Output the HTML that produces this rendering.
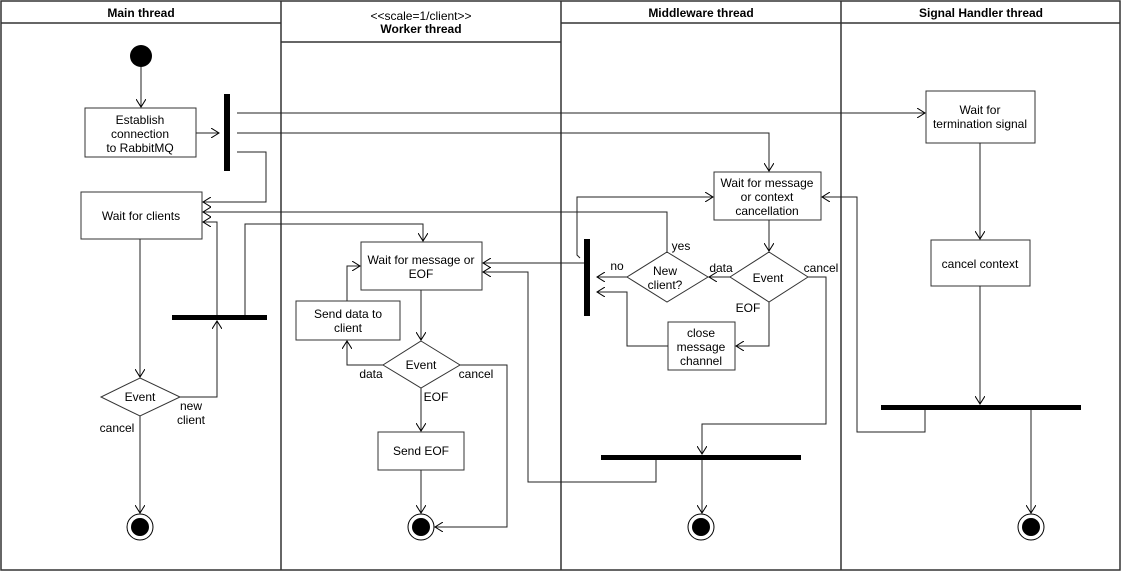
<!DOCTYPE html>
<html><head><meta charset="utf-8"><style>
body{margin:0;background:#fff}
svg text{font-family:"Liberation Sans",sans-serif;font-size:12px;fill:#000}
.b{font-weight:bold}
</style></head><body>
<svg width="1121" height="571" viewBox="0 0 1121 571">
<defs>
<marker id="a" markerWidth="10" markerHeight="10" refX="8" refY="5" orient="auto" markerUnits="userSpaceOnUse">
<path d="M0,0 L8,5 L0,10" fill="none" stroke="#000" stroke-width="1"/></marker>
</defs>
<g fill="none" stroke="#333" stroke-width="1.5">
<rect x="1" y="1" width="1119" height="569"/>
<line x1="281" y1="1" x2="281" y2="570"/>
<line x1="561" y1="1" x2="561" y2="570"/>
<line x1="841" y1="1" x2="841" y2="570"/>
<line x1="1" y1="23" x2="281" y2="23"/>
<line x1="561" y1="23" x2="1120" y2="23"/>
<line x1="281" y1="42" x2="561" y2="42"/>
</g>
<text class="b" x="141" y="17" text-anchor="middle">Main thread</text>
<text x="421" y="20" text-anchor="middle">&lt;&lt;scale=1/client&gt;&gt;</text>
<text class="b" x="421" y="33" text-anchor="middle">Worker thread</text>
<text class="b" x="701" y="17" text-anchor="middle">Middleware thread</text>
<text class="b" x="981" y="17" text-anchor="middle">Signal Handler thread</text>

<g fill="#fff" stroke="#333" stroke-width="1">
<rect x="85" y="108" width="111" height="49"/>
<rect x="81" y="192" width="121" height="47"/>
<polygon points="140,378 180,397 140,416 101,397"/>
<rect x="361" y="242" width="121" height="48"/>
<rect x="296" y="301" width="104" height="39"/>
<polygon points="421,341 460,365 421,388 383,365"/>
<rect x="378" y="432" width="86" height="38"/>
<rect x="714" y="172" width="107" height="48"/>
<polygon points="769,252 808,277 769,302 730,277"/>
<polygon points="667,252 708,277 667,302 627,277"/>
<rect x="668" y="322" width="67" height="48"/>
<rect x="926" y="91" width="109" height="52"/>
<rect x="931" y="240" width="99" height="46"/>
</g>
<g fill="#000">
<circle cx="141" cy="56" r="11"/>
<rect x="224" y="94" width="6" height="77"/>
<rect x="172" y="315" width="95" height="5"/>
<rect x="584" y="239" width="6" height="77"/>
<rect x="601" y="455" width="200" height="5"/>
<rect x="881" y="405" width="200" height="5"/>
</g>
<g fill="none" stroke="#000">
<circle cx="140" cy="527" r="13"/><circle cx="421" cy="527" r="13"/><circle cx="701" cy="527" r="13"/><circle cx="1031" cy="527" r="13"/>
</g>
<g fill="#000"><circle cx="140" cy="527" r="9"/><circle cx="421" cy="527" r="9"/><circle cx="701" cy="527" r="9"/><circle cx="1031" cy="527" r="9"/></g>

<g fill="none" stroke="#222" stroke-width="1" marker-end="url(#a)">
<path d="M141,67 V107"/>
<path d="M196,133 H219"/>
<path d="M237,113 H925"/>
<path d="M237,133 H769 V171"/>
<path d="M237,152 H266 V202 H203"/>
<path d="M140,239 V377"/>
<path d="M180,397 H217 V321"/>
<path d="M217,315 V222 H203"/>
<path d="M245,315 V224 H423 V241"/>
<path d="M140,416 V513"/>
<path d="M421,290 V340"/>
<path d="M383,365 H347 V341"/>
<path d="M347,301 V266 H360"/>
<path d="M421,388 V431"/>
<path d="M421,470 V513"/>
<path d="M460,365 H507 V527 H435"/>
<path d="M769,220 V251"/>
<path d="M730,277 H709"/>
<path d="M627,277 H597"/>
<path d="M667,252 V212 H203"/>
<path d="M769,302 V346 H736"/>
<path d="M668,346 H627 V292 H597"/>
<path d="M584,263 H483"/>
<path d="M580,258 L577,255 V197 H713"/>
<path d="M808,277 H826 V424 H702 V454"/>
<path d="M656,460 V482 H528 V272 H483"/>
<path d="M702,460 V513"/>
<path d="M980,143 V239"/>
<path d="M980,286 V404"/>
<path d="M925,410 V432 H857 V197 H822"/>
<path d="M1031,410 V513"/>
</g>

<g text-anchor="middle">
<text x="140" y="124">Establish</text><text x="140" y="138">connection</text><text x="140" y="152">to RabbitMQ</text>
<text x="141" y="220">Wait for clients</text>
<text x="140" y="401">Event</text>
<text x="191" y="410">new</text><text x="191" y="424">client</text>
<text x="117" y="432">cancel</text>
<text x="421" y="264">Wait for message or</text><text x="421" y="278">EOF</text>
<text x="348" y="318">Send data to</text><text x="348" y="332">client</text>
<text x="421" y="369">Event</text>
<text x="371" y="378">data</text>
<text x="476" y="378">cancel</text>
<text x="436" y="401">EOF</text>
<text x="421" y="455">Send EOF</text>
<text x="767" y="187">Wait for message</text><text x="767" y="201">or context</text><text x="767" y="215">cancellation</text>
<text x="768" y="282">Event</text>
<text x="721" y="272">data</text>
<text x="821" y="272">cancel</text>
<text x="748" y="312">EOF</text>
<text x="665" y="275">New</text><text x="665" y="289">client?</text>
<text x="617" y="270">no</text>
<text x="681" y="250">yes</text>
<text x="701" y="337">close</text><text x="701" y="351">message</text><text x="701" y="365">channel</text>
<text x="980" y="114">Wait for</text><text x="980" y="128">termination signal</text>
<text x="980" y="268">cancel context</text>
</g>
</svg>
</body></html>
